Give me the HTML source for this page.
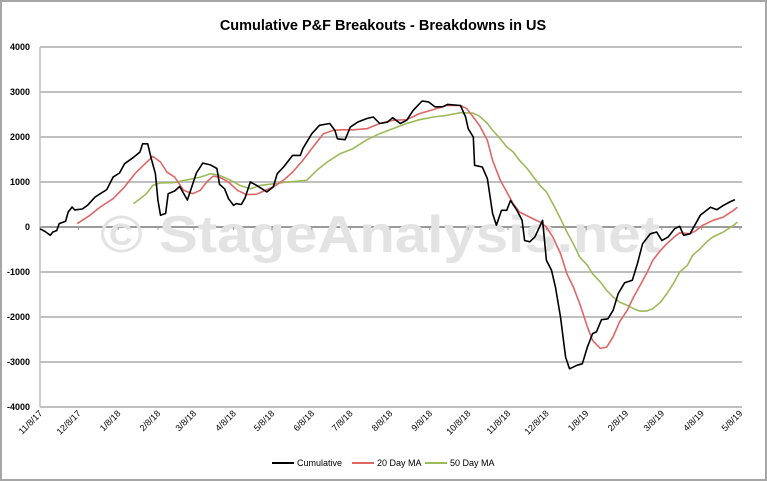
<!DOCTYPE html>
<html><head><meta charset="utf-8"><style>
html,body{margin:0;padding:0;background:#fff}
svg{display:block;font-family:"Liberation Sans",sans-serif}
</style></head><body>
<svg id="chart" width="767" height="481" viewBox="0 0 767 481" xmlns="http://www.w3.org/2000/svg">
<rect x="1" y="1" width="765" height="479" fill="#fff" stroke="#a6a6a6" stroke-width="2"/>
<text x="383" y="30" text-anchor="middle" font-size="14.5" font-weight="bold" fill="#000">Cumulative P&amp;F Breakouts - Breakdowns in US</text>
<g id="grid"></g>
<text x="100" y="252" textLength="560" lengthAdjust="spacingAndGlyphs" font-size="52" font-weight="bold" fill="#e3e3e3">© StageAnalysis.net</text>
<g id="axes"></g>
<g id="series"></g>
<g font-size="9" fill="#000">
<g><line x1="272" y1="463" x2="294" y2="463" stroke="#000" stroke-width="2"/><text x="297" y="466">Cumulative</text></g>
<g><line x1="352" y1="463" x2="374" y2="463" stroke="#e06666" stroke-width="2"/><text x="377" y="466">20 Day MA</text></g>
<g><line x1="425" y1="463" x2="447" y2="463" stroke="#9bbb59" stroke-width="2"/><text x="450" y="466">50 Day MA</text></g>
</g>
</svg>
<script>
const yTicks = [4000,3000,2000,1000,0,-1000,-2000,-3000,-4000];
const xTickLabels = ["11/8/17","12/8/17","1/8/18","2/8/18","3/8/18","4/8/18","5/8/18","6/8/18","7/8/18","8/8/18","9/8/18","10/8/18","11/8/18","12/8/18","1/8/19","2/8/19","3/8/19","4/8/19","5/8/19"];
const xTickDays = [0,30,61,92,120,151,181,212,242,273,304,334,365,395,426,457,485,516,546];
const cumDays = [0,4,8,10,13,15,20,22,25,27,33,37,43,47,52,57,62,66,73,78,80,84,87,90,92,94,98,100,105,109,115,122,127,133,138,140,144,147,151,153,157,160,164,169,177,182,185,190,197,203,205,212,218,226,230,232,238,242,248,255,260,265,271,275,281,286,291,298,303,308,314,318,328,332,334,338,339,345,349,353,356,360,364,367,372,376,378,382,386,392,395,399,402,406,410,413,419,423,427,431,434,438,443,447,451,456,462,466,470,476,481,485,490,495,499,502,507,515,523,528,533,538,542];
const cumValues = [-40,-100,-185,-110,-80,75,130,333,444,380,400,481,667,740,830,1110,1200,1407,1550,1667,1850,1850,1500,1185,600,260,300,740,800,900,600,1200,1420,1380,1300,950,850,630,480,520,500,650,1000,925,780,890,1185,1333,1590,1590,1740,2074,2260,2300,2150,1960,1940,2220,2333,2410,2444,2300,2330,2430,2300,2370,2590,2800,2780,2670,2670,2725,2700,2444,2185,2000,1370,1333,1074,300,37,370,370,590,370,150,-300,-330,-220,150,-740,-960,-1330,-2000,-2890,-3150,-3070,-3040,-2670,-2370,-2330,-2060,-2040,-1850,-1480,-1240,-1185,-815,-370,-150,-110,-300,-220,-37,15,-185,-150,260,440,385,480,555,610];
const ma20Days = [29,39,47,57,66,74,82,88,94,99,105,112,119,125,130,135,140,147,154,161,169,174,182,190,197,205,213,221,229,236,244,255,265,275,286,296,307,317,328,333,338,343,349,353,359,364,369,374,382,390,395,400,406,411,416,421,427,431,437,442,447,452,458,463,468,473,478,484,489,494,499,507,512,517,525,533,541,544];
const ma20Values = [75,260,444,630,890,1185,1407,1570,1444,1220,1110,815,740,815,1000,1130,1110,1000,815,720,730,790,890,1040,1220,1480,1780,2074,2150,2160,2160,2185,2300,2370,2385,2520,2610,2700,2700,2630,2444,2250,1925,1480,1040,780,520,333,220,110,0,-220,-590,-1040,-1330,-1700,-2220,-2520,-2700,-2670,-2440,-2110,-1850,-1555,-1300,-1040,-740,-520,-370,-240,-130,-150,-75,37,150,220,370,440];
const ma50Days = [73,78,83,88,94,104,115,125,133,140,148,156,164,172,182,193,208,216,224,234,244,255,265,275,286,296,307,317,328,338,343,349,353,359,364,369,374,380,385,390,395,400,406,411,416,421,427,431,437,442,447,452,458,463,468,473,478,484,489,494,499,505,509,515,520,525,533,541,544];
const ma50Values = [520,630,740,925,980,985,1050,1110,1185,1150,1050,925,850,925,960,1000,1037,1260,1444,1630,1740,1940,2074,2185,2300,2385,2444,2480,2540,2530,2460,2300,2150,1960,1780,1670,1480,1300,1110,925,780,520,185,-110,-370,-670,-850,-1040,-1220,-1410,-1555,-1670,-1740,-1815,-1870,-1870,-1815,-1670,-1480,-1260,-1000,-850,-630,-480,-330,-220,-110,37,110];

const NS='http://www.w3.org/2000/svg';
const L=40,R=740,T=47,B=407;
const xs=d=>L+(d/546)*(R-L);
const ys=v=>T+(4000-v)/8000*(B-T);
function mk(tag,attrs,parent){const e=document.createElementNS(NS,tag);for(const k in attrs)e.setAttribute(k,attrs[k]);parent.appendChild(e);return e;}
const grid=document.getElementById('grid'),axes=document.getElementById('axes'),series=document.getElementById('series');
yTicks.forEach(v=>{
  const g=mk('line',{x1:L,x2:742,y1:ys(v),y2:ys(v),stroke:v===0?'#9a9a9a':'#c0c0c0','stroke-width':2},grid);
  
  
  const t=mk('text',{x:30,y:ys(v)+3,'text-anchor':'end','font-size':9,'font-weight':'bold',fill:'#000'},axes);
  t.textContent=v;
  
  
});
const ax=mk('line',{x1:L,x2:L,y1:T,y2:B,stroke:'#bfbfbf','stroke-width':1.5},axes);


xTickLabels.forEach((lab,i)=>{
  const x=xs(xTickDays[i]);
  const tk=mk('line',{x1:x,x2:x,y1:ys(0),y2:ys(0)+3,stroke:'#9a9a9a','stroke-width':1},axes);
  
  
  const t=mk('text',{x:x+3,y:414,'text-anchor':'end','font-size':9,fill:'#000',transform:'rotate(-45 '+(x+3)+' 414)'},axes);
  t.textContent=lab;
  
  
});
function line(days,vals,color,name){
  const d=days.map((dd,i)=>(i?'L':'M')+xs(dd).toFixed(1)+','+ys(vals[i]).toFixed(1)).join('');
  const p=mk('path',{d:d,fill:'none',stroke:color,'stroke-width':1.6,'stroke-linejoin':'round'},series);
  
  
}
line(ma50Days,ma50Values,'#9bbb59','line-50-day-ma');
line(ma20Days,ma20Values,'#e06666','line-20-day-ma');
line(cumDays,cumValues,'#000','line-cumulative');
</script>
</body></html>
